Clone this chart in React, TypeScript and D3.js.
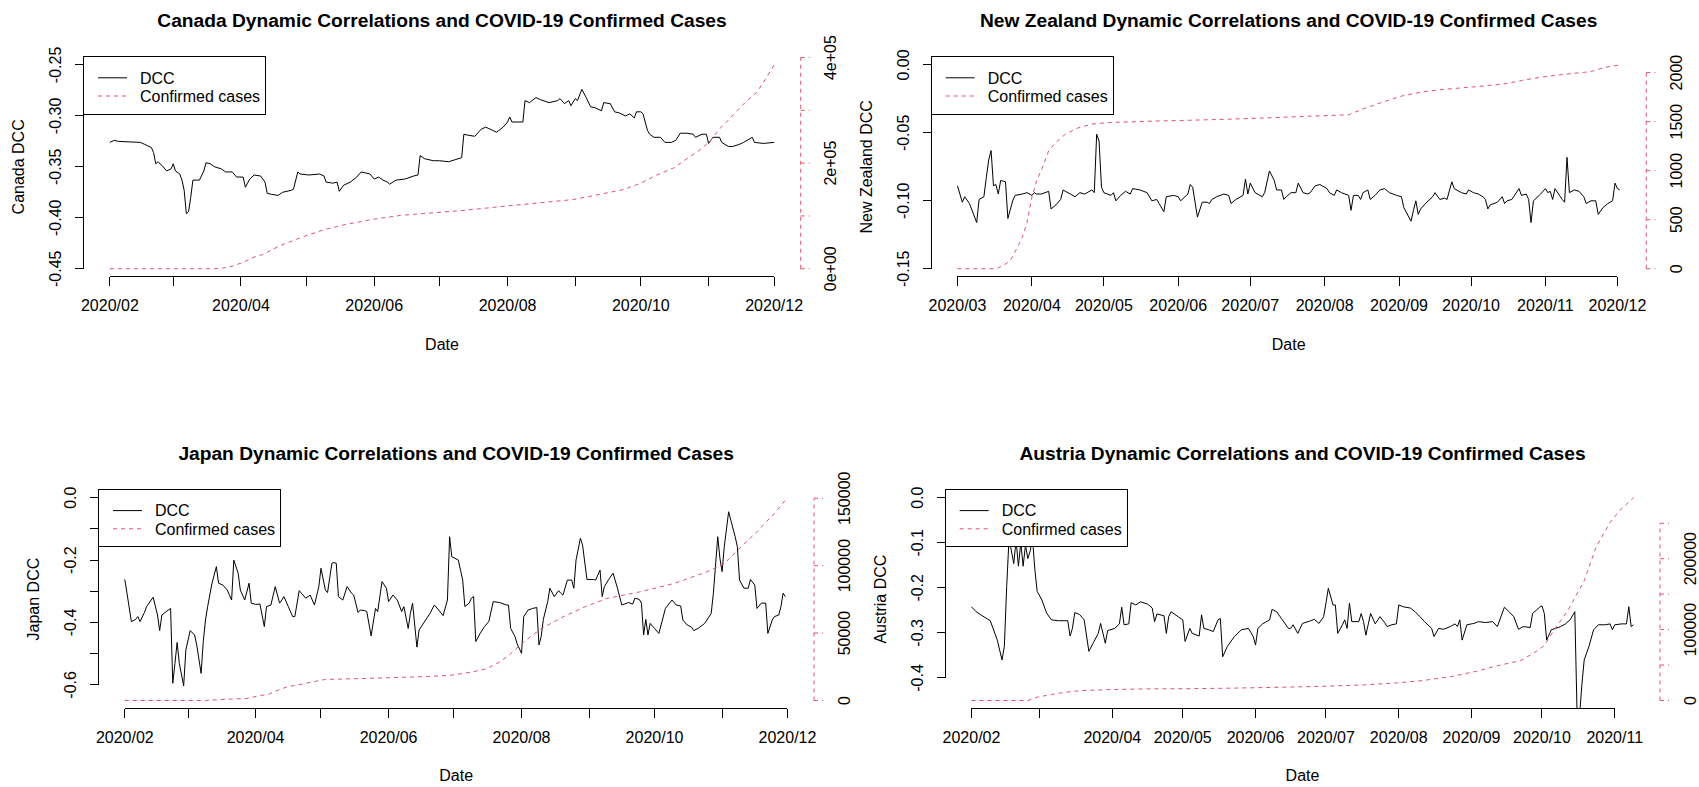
import * as d3 from "d3";

const RED = "#DF536B";
const FONT = "'Liberation Sans', Arial, Helvetica, sans-serif";

type Pt = [number, number];

// Canada, days since 2020-02-01
const canadaDcc: Pt[] = [
  [0, -0.326], [2, -0.324], [4, -0.325], [14, -0.326], [16, -0.328], [19, -0.331], [20, -0.336], [21, -0.347],
  [22, -0.345], [24, -0.349], [26, -0.354], [28, -0.352], [29, -0.347], [30, -0.354], [32, -0.357], [33, -0.363],
  [34, -0.373], [35, -0.396], [36, -0.394], [37, -0.38], [38, -0.363], [40, -0.363], [41, -0.363], [43, -0.354],
  [44, -0.346], [46, -0.347], [48, -0.35], [51, -0.352], [53, -0.355], [56, -0.355], [58, -0.36], [61, -0.36],
  [62, -0.37], [64, -0.362], [66, -0.358], [69, -0.359], [71, -0.365], [72, -0.376], [74, -0.377], [77, -0.378],
  [79, -0.375], [83, -0.373], [84, -0.372], [86, -0.355], [87, -0.357], [91, -0.358], [96, -0.357], [98, -0.359],
  [99, -0.365], [102, -0.366], [104, -0.365], [105, -0.374], [107, -0.368], [110, -0.365], [113, -0.36], [115, -0.355],
  [119, -0.357], [121, -0.362], [123, -0.36], [125, -0.363], [127, -0.365], [128, -0.367], [131, -0.363], [135, -0.362],
  [139, -0.359], [141, -0.358], [142, -0.339], [144, -0.342], [148, -0.344], [151, -0.344], [155, -0.345], [158, -0.343],
  [161, -0.341], [162, -0.318], [164, -0.319], [167, -0.32], [170, -0.313], [172, -0.311], [175, -0.314], [177, -0.316],
  [180, -0.311], [182, -0.306], [183, -0.301], [184, -0.306], [189, -0.306], [190, -0.285], [192, -0.287], [195, -0.282],
  [197, -0.284], [201, -0.287], [205, -0.285], [206, -0.283], [208, -0.288], [210, -0.285], [211, -0.29], [213, -0.283],
  [214, -0.285], [216, -0.274], [218, -0.282], [220, -0.291], [222, -0.292], [225, -0.295], [226, -0.287], [229, -0.288],
  [231, -0.296], [233, -0.297], [236, -0.3], [238, -0.298], [240, -0.302], [241, -0.296], [243, -0.296], [244, -0.298],
  [246, -0.314], [247, -0.318], [249, -0.321], [252, -0.321], [254, -0.326], [257, -0.326], [259, -0.324], [261, -0.317],
  [264, -0.317], [267, -0.318], [268, -0.321], [271, -0.318], [273, -0.318], [274, -0.327], [276, -0.321], [279, -0.321],
  [280, -0.326], [283, -0.33], [285, -0.33], [288, -0.328], [290, -0.326], [294, -0.321], [295, -0.326], [299, -0.327],
  [304, -0.326],
];
const canadaCases: Pt[] = [
  [0, 0], [48, 0], [52, 1500], [56, 5000], [61, 12000], [66, 22000], [70, 27000], [78, 44000], [88, 60000],
  [98, 74000], [108, 84000], [121, 94000], [133, 101000], [148, 106000], [163, 111000], [182, 119000], [197, 125000],
  [212, 131000], [222, 139000], [235, 150000], [243, 162000], [250, 177000], [258, 191000], [265, 211000],
  [270, 225000], [275, 243000], [279, 265000], [282, 277000], [287, 299000], [291, 316000], [296, 334000],
  [300, 359000], [304, 386000],
];

// New Zealand, days since 2020-03-01
const nzDcc: Pt[] = [
  [0, -0.089], [2, -0.101], [3, -0.097], [5, -0.102], [8, -0.116], [9, -0.099], [11, -0.097], [12, -0.083],
  [13, -0.07], [14, -0.063], [15, -0.089], [16, -0.088], [17, -0.095], [18, -0.085], [20, -0.086], [21, -0.113],
  [23, -0.1], [24, -0.096], [27, -0.095], [29, -0.094], [31, -0.096], [32, -0.094], [33, -0.095], [35, -0.095],
  [38, -0.093], [39, -0.106], [41, -0.103], [43, -0.099], [44, -0.092], [47, -0.095], [49, -0.097], [51, -0.094],
  [53, -0.095], [56, -0.092], [57, -0.094], [58, -0.051], [59, -0.056], [60, -0.09], [61, -0.094], [64, -0.096],
  [65, -0.094], [66, -0.1], [68, -0.096], [70, -0.093], [72, -0.095], [73, -0.091], [76, -0.092], [79, -0.094],
  [81, -0.1], [83, -0.099], [84, -0.102], [86, -0.108], [87, -0.097], [90, -0.096], [92, -0.097], [93, -0.1],
  [96, -0.095], [97, -0.088], [98, -0.09], [100, -0.112], [102, -0.101], [104, -0.101], [105, -0.102], [106, -0.099],
  [108, -0.097], [111, -0.095], [113, -0.096], [114, -0.102], [116, -0.099], [118, -0.097], [119, -0.096], [120, -0.084],
  [121, -0.095], [122, -0.087], [124, -0.094], [127, -0.097], [128, -0.094], [130, -0.078], [132, -0.085], [133, -0.092],
  [135, -0.092], [136, -0.099], [137, -0.097], [139, -0.094], [141, -0.094], [142, -0.087], [144, -0.094], [146, -0.095],
  [147, -0.094], [149, -0.089], [151, -0.088], [154, -0.091], [155, -0.094], [157, -0.096], [158, -0.092], [160, -0.094],
  [163, -0.096], [164, -0.107], [165, -0.096], [167, -0.096], [168, -0.099], [169, -0.094], [171, -0.092], [172, -0.099],
  [174, -0.096], [176, -0.092], [178, -0.091], [180, -0.094], [183, -0.096], [185, -0.097], [186, -0.105], [189, -0.115],
  [190, -0.107], [191, -0.1], [192, -0.11], [193, -0.106], [195, -0.102], [198, -0.097], [199, -0.094], [201, -0.099],
  [203, -0.098], [204, -0.099], [206, -0.086], [207, -0.091], [210, -0.094], [212, -0.095], [213, -0.092], [215, -0.094],
  [217, -0.095], [219, -0.097], [220, -0.099], [221, -0.106], [222, -0.103], [225, -0.101], [227, -0.097], [228, -0.102],
  [229, -0.1], [231, -0.099], [234, -0.091], [235, -0.096], [237, -0.095], [238, -0.099], [239, -0.116], [240, -0.1],
  [243, -0.095], [245, -0.091], [246, -0.094], [247, -0.093], [248, -0.099], [249, -0.091], [252, -0.099], [253, -0.101],
  [254, -0.068], [255, -0.094], [257, -0.092], [259, -0.093], [261, -0.097], [262, -0.102], [264, -0.1], [266, -0.1],
  [267, -0.11], [269, -0.105], [271, -0.102], [273, -0.1], [274, -0.087], [275, -0.091], [276, -0.092],
];
const nzCases: Pt[] = [
  [0, 0], [16, 0], [19, 30], [22, 84], [25, 220], [27, 321], [29, 474], [31, 728], [33, 898], [36, 1068],
  [38, 1203], [41, 1288], [45, 1373], [50, 1434], [56, 1475], [63, 1491], [81, 1505], [95, 1513], [113, 1525],
  [131, 1540], [147, 1556], [163, 1570], [168, 1620], [176, 1690], [185, 1760], [194, 1805], [203, 1830],
  [215, 1854], [229, 1888], [235, 1920], [244, 1956], [253, 1983], [264, 2010], [270, 2055], [276, 2078],
];

// Japan, days since 2020-02-01
const japanDcc: Pt[] = [
  [0, -0.262], [1, -0.306], [3, -0.397], [5, -0.39], [6, -0.381], [7, -0.397], [9, -0.368], [10, -0.349],
  [13, -0.319], [15, -0.376], [16, -0.426], [17, -0.376], [19, -0.365], [21, -0.355], [22, -0.595], [23, -0.531],
  [24, -0.464], [25, -0.531], [27, -0.603], [28, -0.488], [30, -0.426], [32, -0.44], [33, -0.472], [35, -0.563],
  [36, -0.461], [37, -0.392], [38, -0.349], [40, -0.274], [42, -0.221], [43, -0.274], [45, -0.28], [47, -0.296],
  [49, -0.328], [50, -0.2], [52, -0.242], [53, -0.296], [55, -0.328], [57, -0.274], [58, -0.338], [60, -0.342],
  [62, -0.341], [64, -0.413], [65, -0.349], [67, -0.344], [69, -0.285], [71, -0.338], [72, -0.328], [73, -0.317],
  [75, -0.349], [77, -0.381], [78, -0.381], [80, -0.298], [81, -0.306], [83, -0.322], [85, -0.312], [87, -0.344],
  [89, -0.285], [90, -0.226], [92, -0.296], [93, -0.304], [95, -0.21], [96, -0.208], [97, -0.21], [98, -0.317],
  [100, -0.328], [102, -0.285], [104, -0.306], [105, -0.312], [107, -0.368], [108, -0.36], [110, -0.362], [111, -0.365],
  [113, -0.443], [115, -0.355], [116, -0.365], [118, -0.269], [120, -0.29], [121, -0.333], [123, -0.312], [125, -0.328],
  [127, -0.365], [128, -0.349], [130, -0.419], [131, -0.371], [132, -0.338], [134, -0.479], [135, -0.424], [138, -0.392],
  [140, -0.371], [142, -0.344], [144, -0.36], [146, -0.378], [148, -0.328], [149, -0.125], [150, -0.189], [153, -0.2],
  [154, -0.232], [155, -0.264], [156, -0.349], [158, -0.338], [159, -0.322], [160, -0.317], [161, -0.461], [163, -0.435],
  [165, -0.413], [167, -0.397], [169, -0.333], [172, -0.336], [175, -0.344], [176, -0.344], [177, -0.419], [179, -0.445],
  [180, -0.469], [182, -0.499], [183, -0.381], [185, -0.36], [187, -0.355], [189, -0.352], [190, -0.472], [191, -0.445],
  [192, -0.39], [194, -0.333], [195, -0.29], [197, -0.317], [199, -0.298], [200, -0.306], [201, -0.312], [203, -0.264],
  [205, -0.264], [206, -0.29], [207, -0.2], [209, -0.13], [210, -0.152], [212, -0.262], [215, -0.262], [216, -0.264],
  [218, -0.232], [219, -0.317], [220, -0.285], [222, -0.262], [224, -0.242], [226, -0.29], [228, -0.344], [231, -0.336],
  [233, -0.341], [234, -0.322], [236, -0.326], [237, -0.338], [238, -0.44], [239, -0.39], [240, -0.44], [241, -0.403],
  [243, -0.419], [245, -0.435], [248, -0.355], [251, -0.328], [253, -0.344], [255, -0.347], [256, -0.392], [258, -0.408],
  [260, -0.415], [261, -0.426], [263, -0.419], [266, -0.403], [269, -0.371], [270, -0.306], [272, -0.125], [273, -0.194],
  [274, -0.237], [275, -0.157], [277, -0.045], [278, -0.072], [280, -0.125], [281, -0.157], [282, -0.264], [284, -0.29],
  [286, -0.29], [287, -0.262], [289, -0.28], [290, -0.355], [292, -0.338], [294, -0.338], [295, -0.435], [297, -0.392],
  [298, -0.381], [300, -0.376], [301, -0.349], [302, -0.306], [303, -0.317],
];
const japanCases: Pt[] = [
  [0, 0], [37, 0], [50, 1200], [56, 1500], [62, 3700], [66, 4500], [68, 6200], [74, 9900], [82, 12400],
  [88, 14400], [92, 15600], [104, 16100], [122, 16900], [139, 17800], [149, 18600], [159, 21000], [166, 23600],
  [172, 28500], [177, 34700], [182, 42100], [191, 53300], [201, 62000], [211, 69400], [221, 75600], [236, 80500],
  [252, 86800], [267, 95400], [275, 101600], [282, 112800], [290, 125200], [298, 138800], [304, 150400],
];

// Austria, days since 2020-02-01
const austriaDcc: Pt[] = [
  [0, -0.242], [2, -0.253], [4, -0.26], [8, -0.273], [11, -0.316], [13, -0.36], [14, -0.33], [15, -0.197],
  [16, -0.09], [18, -0.146], [19, -0.095], [20, -0.152], [21, -0.1], [22, -0.152], [23, -0.105], [24, -0.135],
  [25, -0.118], [26, -0.09], [27, -0.16], [28, -0.208], [30, -0.227], [32, -0.256], [34, -0.271], [37, -0.273],
  [41, -0.273], [42, -0.307], [43, -0.29], [44, -0.255], [46, -0.259], [48, -0.271], [50, -0.341], [52, -0.321],
  [54, -0.301], [55, -0.279], [57, -0.323], [58, -0.295], [61, -0.29], [63, -0.28], [64, -0.243], [65, -0.282],
  [67, -0.28], [68, -0.233], [70, -0.238], [72, -0.231], [75, -0.236], [77, -0.245], [78, -0.275], [79, -0.258],
  [82, -0.262], [83, -0.301], [84, -0.264], [85, -0.253], [88, -0.264], [90, -0.271], [91, -0.319], [93, -0.29],
  [94, -0.301], [97, -0.307], [98, -0.26], [99, -0.29], [101, -0.293], [103, -0.297], [105, -0.271], [106, -0.268],
  [107, -0.353], [109, -0.33], [112, -0.308], [115, -0.293], [118, -0.29], [120, -0.308], [121, -0.327], [122, -0.29],
  [124, -0.28], [127, -0.271], [128, -0.248], [130, -0.253], [132, -0.268], [135, -0.29], [136, -0.29], [137, -0.282],
  [139, -0.301], [141, -0.279], [144, -0.274], [146, -0.27], [148, -0.279], [150, -0.264], [151, -0.234], [152, -0.201],
  [154, -0.238], [155, -0.238], [156, -0.301], [158, -0.282], [159, -0.271], [160, -0.29], [161, -0.234], [162, -0.275],
  [165, -0.275], [166, -0.257], [167, -0.275], [168, -0.305], [170, -0.257], [172, -0.28], [174, -0.264], [176, -0.277],
  [177, -0.286], [179, -0.282], [181, -0.28], [182, -0.238], [184, -0.242], [187, -0.245], [189, -0.253], [191, -0.264],
  [193, -0.275], [196, -0.29], [197, -0.308], [199, -0.29], [201, -0.292], [204, -0.286], [206, -0.28], [207, -0.286],
  [208, -0.271], [209, -0.316], [211, -0.282], [214, -0.279], [216, -0.275], [219, -0.277], [222, -0.275], [224, -0.286],
  [227, -0.243], [229, -0.253], [231, -0.264], [233, -0.292], [235, -0.286], [238, -0.288], [239, -0.257], [242, -0.243],
  [243, -0.24], [244, -0.257], [245, -0.316], [247, -0.293], [251, -0.286], [253, -0.28], [255, -0.271], [256, -0.262],
  [257, -0.253], [258, -0.49], [259, -0.485], [260, -0.415], [261, -0.36], [263, -0.33], [265, -0.293], [267, -0.282],
  [270, -0.282], [272, -0.28], [273, -0.293], [274, -0.282], [277, -0.28], [279, -0.28], [280, -0.242], [281, -0.286],
  [282, -0.282],
];
const austriaCases: Pt[] = [
  [0, 0], [24, 0], [28, 4700], [34, 8400], [40, 11700], [47, 14000], [59, 15400], [75, 16400], [91, 16600],
  [109, 17300], [132, 18700], [151, 20100], [167, 22000], [181, 24800], [192, 28000], [204, 33600], [215, 41100],
  [224, 49000], [234, 56300], [240, 68000], [244, 77500], [248, 98600], [254, 126800], [261, 169000], [266, 216000],
  [272, 251000], [276, 267600], [282, 286000],
];

// axis ticks and labels
const canadaYTicks = [-0.45, -0.4, -0.35, -0.3, -0.25];
const canadaYLabels = ["-0.45", "-0.40", "-0.35", "-0.30", "-0.25"];
const canadaCaseTicks = [0, 100000, 200000, 300000, 400000];
const canadaCaseLabels = ["0e+00", "", "2e+05", "", "4e+05"];
const canadaXLabels = ["2020/02", "", "2020/04", "", "2020/06", "", "2020/08", "", "2020/10", "", "2020/12"];

const nzYTicks = [-0.15, -0.1, -0.05, 0];
const nzYLabels = ["-0.15", "-0.10", "-0.05", "0.00"];
const nzCaseTicks = [0, 500, 1000, 1500, 2000];
const nzCaseLabels = ["0", "500", "1000", "1500", "2000"];
const nzXLabels = ["2020/03", "2020/04", "2020/05", "2020/06", "2020/07", "2020/08", "2020/09", "2020/10", "2020/11", "2020/12"];

const japanYTicks = [-0.6, -0.5, -0.4, -0.3, -0.2, -0.1, 0];
const japanYLabels = ["-0.6", "", "-0.4", "", "-0.2", "", "0.0"];
const japanCaseTicks = [0, 50000, 100000, 150000];
const japanCaseLabels = ["0", "50000", "100000", "150000"];
const japanXLabels = canadaXLabels;

const austriaYTicks = [-0.4, -0.3, -0.2, -0.1, 0];
const austriaYLabels = ["-0.4", "-0.3", "-0.2", "-0.1", "0.0"];
const austriaCaseTicks = [0, 50000, 100000, 150000, 200000, 250000];
const austriaCaseLabels = ["0", "", "100000", "", "200000", ""];
const austriaXLabels = ["2020/02", "", "2020/04", "2020/05", "2020/06", "2020/07", "2020/08", "2020/09", "2020/10", "2020/11"];

interface PanelSpec {
  id: string;
  country: string;
  start: string;
  dcc: Pt[];
  cases: Pt[];
  ylim: [number, number];
  yTicks: number[];
  yLabels: string[];
  caseTicks: number[];
  caseLabels: string[];
  xLabels: string[];
  box: [number, number, number, number];
}

const panels: PanelSpec[] = [
  {
    id: "canada", country: "Canada", start: "2020-02-01", dcc: canadaDcc, cases: canadaCases,
    ylim: [-0.45, -0.25], yTicks: canadaYTicks, yLabels: canadaYLabels,
    caseTicks: canadaCaseTicks, caseLabels: canadaCaseLabels, xLabels: canadaXLabels,
    box: [83.3, 800.7, 56.8, 276.9],
  },
  {
    id: "nz", country: "New Zealand", start: "2020-03-01", dcc: nzDcc, cases: nzCases,
    ylim: [-0.15, 0], yTicks: nzYTicks, yLabels: nzYLabels,
    caseTicks: nzCaseTicks, caseLabels: nzCaseLabels, xLabels: nzXLabels,
    box: [931, 1646.3, 56.8, 276.9],
  },
  {
    id: "japan", country: "Japan", start: "2020-02-01", dcc: japanDcc, cases: japanCases,
    ylim: [-0.65, 0], yTicks: japanYTicks, yLabels: japanYLabels,
    caseTicks: japanCaseTicks, caseLabels: japanCaseLabels, xLabels: japanXLabels,
    box: [98.3, 814, 489.6, 708.6],
  },
  {
    id: "austria", country: "Austria", start: "2020-02-01", dcc: austriaDcc, cases: austriaCases,
    ylim: [-0.45, 0], yTicks: austriaYTicks, yLabels: austriaYLabels,
    caseTicks: austriaCaseTicks, caseLabels: austriaCaseLabels, xLabels: austriaXLabels,
    box: [945, 1660, 489.6, 708.6],
  },
];

const pad = (lo: number, hi: number): [number, number] => {
  const r = (hi - lo) * 0.04;
  return [lo - r, hi + r];
};

const Panel = ({ spec }: { spec: PanelSpec }) => {
  const [L, R, T, B] = spec.box;
  const t0 = new Date(spec.start + "T00:00:00Z");
  const day = (d: number) => d3.utcDay.offset(t0, d);
  const lastDay = Math.max(d3.max(spec.dcc, (d) => d[0])!, d3.max(spec.cases, (d) => d[0])!);
  const tEnd = day(lastDay);
  const [xa, xb] = pad(+t0, +tEnd);
  const x = d3.scaleUtc().domain([new Date(xa), new Date(xb)]).range([L, R]);
  const y = d3.scaleLinear().domain(pad(spec.ylim[0], spec.ylim[1])).range([B, T]);
  const yc = d3.scaleLinear().domain(pad(0, d3.max(spec.cases, (d) => d[1])!)).range([B, T]);

  const dccLine = d3.line<Pt>().x((d) => x(day(d[0]))).y((d) => y(d[1]));
  const caseLine = d3.line<Pt>().x((d) => x(day(d[0]))).y((d) => yc(d[1]));
  const months = d3.utcMonth.range(t0, d3.utcDay.offset(tEnd, 1)).slice(0, spec.xLabels.length);

  const textStyle = { fontFamily: FONT, fontSize: 16, fill: "#000" };
  const clipId = `clip-${spec.id}`;
  const legW = 182;
  const legH = 57.3;

  return (
    <g>
      <defs>
        <clipPath id={clipId}>
          <rect x={L} y={T} width={R - L} height={B - T} />
        </clipPath>
      </defs>
      <text
        x={(L + R) / 2}
        y={T - 30}
        textAnchor="middle"
        style={{ fontFamily: FONT, fontSize: 19.2, fontWeight: "bold", fill: "#000" }}
      >
        {`${spec.country} Dynamic Correlations and COVID-19 Confirmed Cases`}
      </text>

      <g clipPath={`url(#${clipId})`}>
        <path d={dccLine(spec.dcc) ?? ""} fill="none" stroke="#000" strokeWidth={1} />
        <path d={caseLine(spec.cases) ?? ""} fill="none" stroke={RED} strokeWidth={1} strokeDasharray="4,4" />
      </g>

      {/* left axis */}
      <line
        x1={L} x2={L}
        y1={y(spec.yTicks[0])} y2={y(spec.yTicks[spec.yTicks.length - 1])}
        stroke="#000" shapeRendering="crispEdges"
      />
      {spec.yTicks.map((t, i) => (
        <g key={`y${i}`}>
          <line x1={L - 8} x2={L} y1={y(t)} y2={y(t)} stroke="#000" shapeRendering="crispEdges" />
          {spec.yLabels[i] && (
            <text transform={`translate(${L - 22},${y(t)}) rotate(-90)`} textAnchor="middle" style={textStyle}>
              {spec.yLabels[i]}
            </text>
          )}
        </g>
      ))}
      <text
        transform={`translate(${L - 59},${(T + B) / 2}) rotate(-90)`}
        textAnchor="middle"
        style={textStyle}
      >
        {`${spec.country} DCC`}
      </text>

      {/* right axis */}
      <line
        x1={R} x2={R}
        y1={yc(spec.caseTicks[0])} y2={yc(spec.caseTicks[spec.caseTicks.length - 1])}
        stroke={RED} strokeDasharray="4,4"
      />
      {spec.caseTicks.map((t, i) => (
        <g key={`c${i}`}>
          <line x1={R} x2={R + 9} y1={yc(t)} y2={yc(t)} stroke={RED} strokeDasharray="4,4" />
          {spec.caseLabels[i] && (
            <text transform={`translate(${R + 35.5},${yc(t)}) rotate(-90)`} textAnchor="middle" style={textStyle}>
              {spec.caseLabels[i]}
            </text>
          )}
        </g>
      ))}

      {/* bottom axis */}
      <line
        x1={x(months[0])} x2={x(months[months.length - 1])}
        y1={B} y2={B}
        stroke="#000" shapeRendering="crispEdges"
      />
      {months.map((m, i) => (
        <g key={`x${i}`}>
          <line x1={x(m)} x2={x(m)} y1={B} y2={B + 9} stroke="#000" shapeRendering="crispEdges" />
          {spec.xLabels[i] && (
            <text x={x(m)} y={B + 34.3} textAnchor="middle" style={textStyle}>
              {spec.xLabels[i]}
            </text>
          )}
        </g>
      ))}
      <text x={(L + R) / 2} y={B + 72.7} textAnchor="middle" style={textStyle}>
        Date
      </text>

      {/* legend */}
      <rect x={L} y={T} width={legW} height={legH} fill="#fff" stroke="#000" shapeRendering="crispEdges" />
      <line x1={L + 14.7} x2={L + 43.7} y1={T + 21} y2={T + 21} stroke="#000" />
      <line x1={L + 14.7} x2={L + 43.7} y1={T + 39.2} y2={T + 39.2} stroke={RED} strokeDasharray="4,4" />
      <text x={L + 56.7} y={T + 26.7} style={textStyle}>DCC</text>
      <text x={L + 56.7} y={T + 44.9} style={textStyle}>Confirmed cases</text>
    </g>
  );
};

export default function App() {
  return (
    <svg
      width={1699}
      height={787}
      viewBox="0 0 1699 787"
      style={{ position: "absolute", left: 0, top: 0, background: "#fff" }}
    >
      <rect width={1699} height={787} fill="#fff" />
      {panels.map((p) => (
        <Panel key={p.id} spec={p} />
      ))}
    </svg>
  );
}
